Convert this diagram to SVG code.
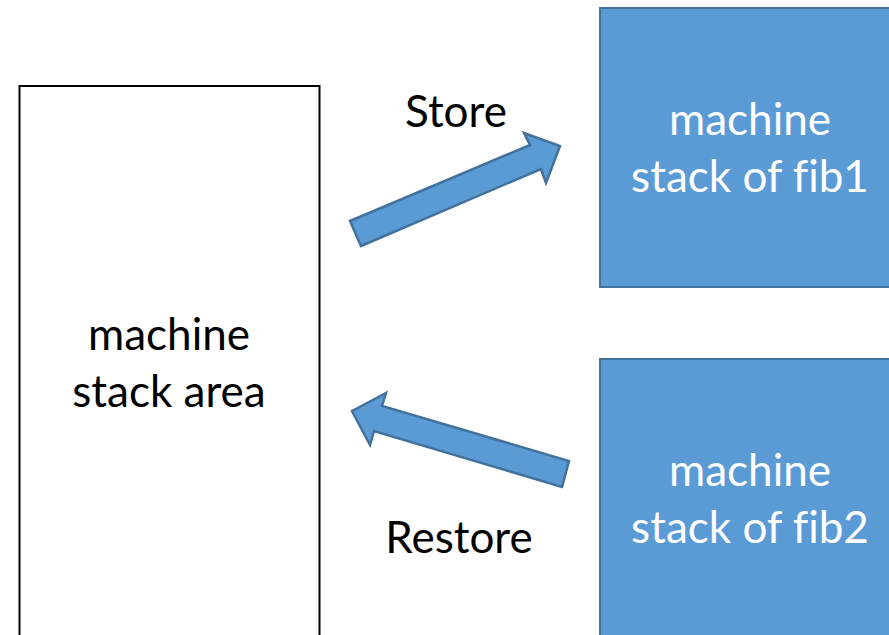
<svg xmlns="http://www.w3.org/2000/svg" width="889" height="635" viewBox="0 0 889 635">
<style>
.t{font-family:Lato,"Open Sans",sans-serif;font-size:44px;text-anchor:middle;font-variant-ligatures:none;font-feature-settings:"liga" 0}
.w{fill:#ffffff}
.k{fill:#000000}
.blue{fill:#5B9BD5;stroke:#41719C;stroke-width:2}
.arrow{fill:#5B9BD5;stroke:#41719C;stroke-width:2.5;stroke-linejoin:miter}
</style>
<rect width="889" height="635" fill="#ffffff"/>
<g id="area">
<rect x="19.5" y="86" width="300" height="560" fill="#ffffff" stroke="#000000" stroke-width="2"/>
<text class="t k" x="169" y="350">machine</text>
<text class="t k" x="169" y="407">stack area</text>
</g>
<g id="fib1">
<rect class="blue" x="600" y="8" width="300" height="279"/>
<text class="t w" x="750" y="135">machine</text>
<text class="t w" x="750" y="192">stack of fib1</text>
</g>
<g id="fib2">
<rect class="blue" x="600" y="359" width="300" height="290"/>
<text class="t w" x="750" y="486">machine</text>
<text class="t w" x="750" y="543">stack of fib2</text>
</g>
<g id="connectors">
<polygon class="arrow" points="350,221 530,145 524,133 560,146 546,183 541,169 361,246"/>
<polygon class="arrow" points="352,411 386,393 382,406 569,461 562,487 374,431 370,445"/>
<text class="t k" x="456" y="127">Store</text>
<text class="t k" x="459" y="553">Restore</text>
</g>
</svg>
